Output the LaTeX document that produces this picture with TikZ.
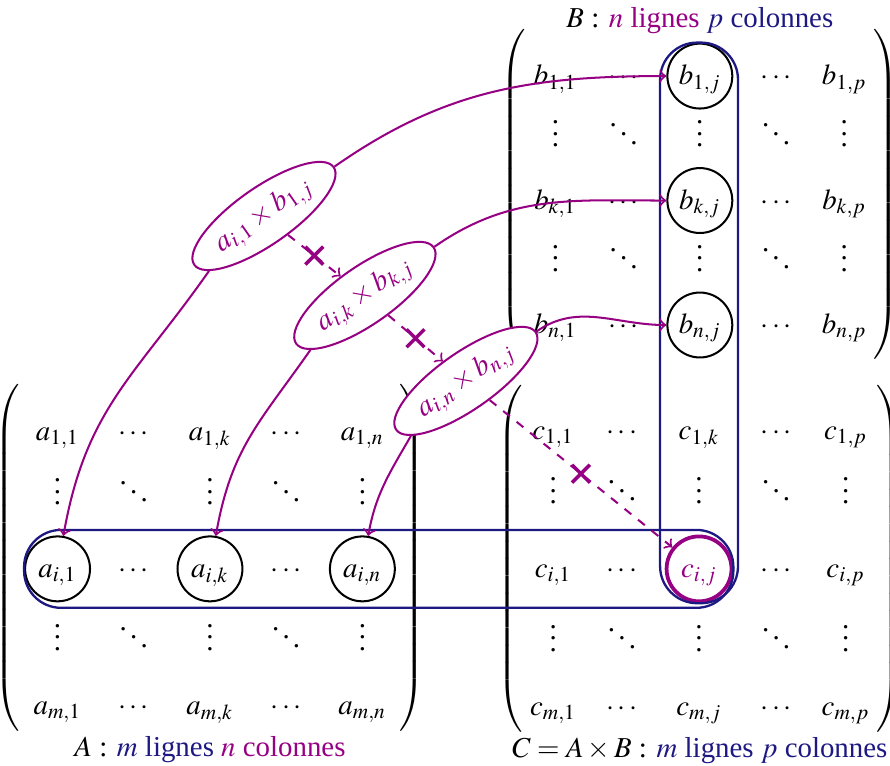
\documentclass[tikz,border=0pt]{standalone}
\usepackage{mathptmx}
\DeclareSymbolFont{largesymbols}{OMX}{cmex}{m}{n}
\usepackage{fontspec}
\setmainfont{Liberation Serif}
\usepackage{tikz}
\usetikzlibrary{matrix, fit, positioning, shapes.geometric, shapes.misc}
\definecolor{violetlien}{RGB}{150,0,130}
\definecolor{bleuboite}{RGB}{30,25,130}
\delimitershortfall=-4pt

\begin{document}
\begin{tikzpicture}[
    mat/.style={matrix of math nodes, left delimiter=(, right delimiter=),
        inner sep=0pt, column sep=0.21cm,
        cells={nodes={anchor=center, text height=1.9ex, text depth=.6ex,
               minimum width=0.62cm, minimum height=0.6cm, inner sep=1pt}}},
    rond/.style={circle, draw, line width=0.7pt, minimum size=0.79cm, inner sep=0pt},
    rondc/.style={rond, draw=violetlien, text=violetlien, line width=1.3pt},
    boite/.style={draw=bleuboite, line width=0.8pt, rounded corners=0.45cm},
    produit/.style={ellipse, draw=violetlien, fill=white, text=violetlien,
        line width=0.7pt, rotate=35, inner xsep=1.6pt, inner ysep=2pt},
    fleche/.style={->, violetlien, line width=0.7pt},
    pointille/.style={fleche, dashed},
    croix/.style={cross out, draw=violetlien, solid, line width=1.2pt,
        minimum size=5pt, inner sep=0pt},
    titre/.style={inner sep=1pt},
]
    \useasboundingbox (0,0) rectangle (10.83,-9.31);

    % les trois matrices
    \matrix[mat, row sep=0.05cm] (B) at (8.516,-2.44) {
        b_{1,1} & \cdots & |[rond]| b_{1,j} & \cdots & b_{1,p} \\
        \vdots  & \ddots & \vdots           & \ddots & \vdots  \\
        b_{k,1} & \cdots & |[rond]| b_{k,j} & \cdots & b_{k,p} \\
        \vdots  & \ddots & \vdots           & \ddots & \vdots  \\
        b_{n,1} & \cdots & |[rond]| b_{n,j} & \cdots & b_{n,p} \\
    };
    \matrix[mat, row sep=0.18cm] (A) at (2.555,-6.922) {
        a_{1,1} & \cdots & a_{1,k} & \cdots & a_{1,n} \\
        \vdots  & \ddots & \vdots  & \ddots & \vdots  \\
        |[rond]| a_{i,1} & \cdots & |[rond]| a_{i,k} & \cdots & |[rond]| a_{i,n} \\
        \vdots  & \ddots & \vdots  & \ddots & \vdots  \\
        a_{m,1} & \cdots & a_{m,k} & \cdots & a_{m,n} \\
    };
    \matrix[mat, row sep=0.18cm] (C) at (8.516,-6.922) {
        c_{1,1} & \cdots & c_{1,k} & \cdots & c_{1,p} \\
        \vdots  & \ddots & \vdots  & \ddots & \vdots  \\
        c_{i,1} & \cdots & |[rondc]| c_{i,j} & \cdots & c_{i,p} \\
        \vdots  & \ddots & \vdots  & \ddots & \vdots  \\
        c_{m,1} & \cdots & c_{m,j} & \cdots & c_{m,p} \\
    };

    \node[titre, above=0.06cm of B] (titreB)
        {$B$ : \textcolor{violetlien}{$n$ lignes} \textcolor{bleuboite}{$p$ colonnes}};
    \node[titre, below=0.02cm of A] (titreA)
        {$A$ : \textcolor{bleuboite}{$m$ lignes} \textcolor{violetlien}{$n$ colonnes}};
    \node[titre, below=0.02cm of C] (titreC)
        {$C=A\times B$ : \textcolor{bleuboite}{$m$ lignes $p$ colonnes}};

    % ligne i de A et colonne j de B
    \node[boite, fit=(A-3-1)(C-3-3), inner xsep=0pt, inner ysep=1.6pt] (ligne) {};
    \node[boite, fit=(B-1-3)(C-3-3), inner xsep=1.6pt, inner ysep=0pt] (colonne) {};

    % les produits
    \node[produit] (E1) at (3.212,-2.628) {$a_{i,1}\times b_{1,j}$};
    \node[produit] (E2) at (4.440,-3.595) {$a_{i,k}\times b_{k,j}$};
    \node[produit] (E3) at (5.669,-4.635) {$a_{i,n}\times b_{n,j}$};

    \draw[fleche] (E1.east) to[out=35, in=180] (B-1-3);
    \draw[fleche] (E2.east) to[out=35, in=180] (B-3-3);
    \draw[fleche] (E3.east) to[out=35, in=180] (B-5-3);
    \draw[fleche] (E1.190) to[out=-125, in=80, looseness=1.1] (A-3-1);
    \draw[fleche] (E2.190) to[out=-125, in=80, looseness=1.1] (A-3-3);
    \draw[fleche] (E3.190) to[out=-120, in=80] (A-3-5);

    \draw[pointille] (E1) -- node[croix] {} (E2);
    \draw[pointille] (E2) -- node[croix] {} (E3);
    \draw[pointille] (E3) -- node[croix] {} (C-3-3);
\end{tikzpicture}
\end{document}
